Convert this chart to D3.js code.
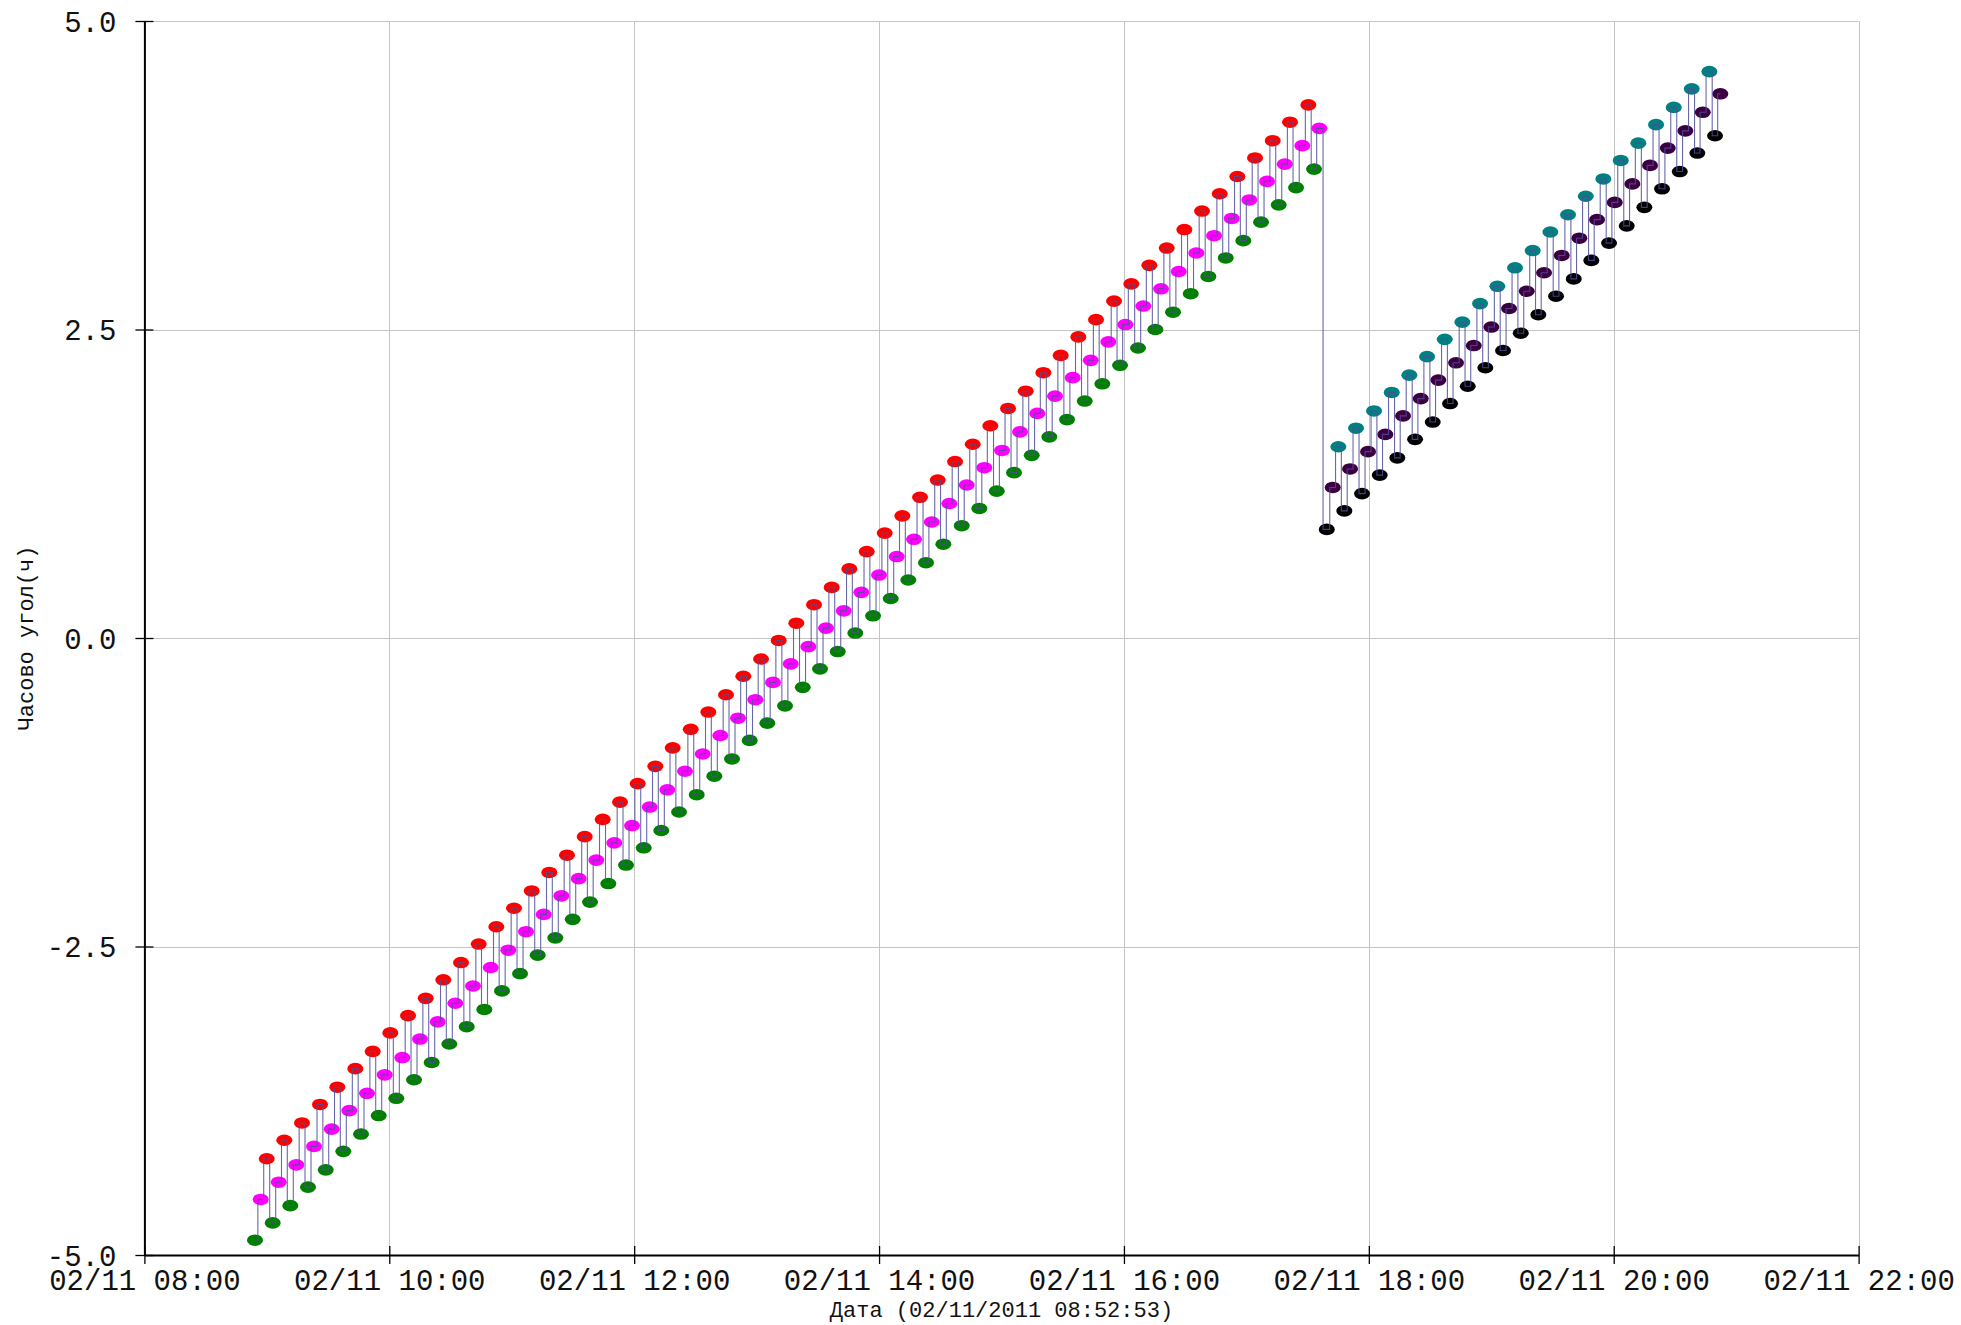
<!DOCTYPE html>
<html>
<head>
<meta charset="utf-8">
<script src="https://cdn.jsdelivr.net/npm/d3@7"></script>
<style>
  body { margin: 0; background: #fff; }
  svg { display: block; }
  text { font-family: "Liberation Mono", "DejaVu Sans Mono", monospace; fill: #111; }
</style>
</head>
<body>
<svg id="chart" width="1961" height="1325"></svg>
<script>
// ── Datos ────────────────────────────────────────────────────────
const DAY = "2011-11-02";

const greenTimes = ["08:54:12","09:02:52","09:11:30","09:20:10","09:28:51","09:37:28","09:46:09","09:54:49","10:03:27","10:12:07","10:20:47","10:29:25","10:37:56","10:46:34","10:55:14","11:04:04","11:12:44","11:21:21","11:29:53","11:38:22","11:47:20","11:56:00","12:04:41","12:13:18","12:21:59","12:30:39","12:39:16","12:47:57","12:56:37","13:05:15","13:13:55","13:22:36","13:31:04","13:39:45","13:48:22","13:57:03","14:05:43","14:14:20","14:23:01","14:31:30","14:40:31","14:49:08","14:57:40","15:06:08","15:14:49","15:23:26","15:32:07","15:40:47","15:49:25","15:58:05","16:06:54","16:15:23","16:24:03","16:32:44","16:41:21","16:49:53","16:58:30","17:07:11","17:15:51","17:24:20","17:33:09"];
const greenValues = [-4.88,-4.74,-4.60,-4.45,-4.31,-4.16,-4.02,-3.87,-3.73,-3.58,-3.44,-3.29,-3.15,-3.01,-2.86,-2.72,-2.57,-2.43,-2.28,-2.14,-1.99,-1.84,-1.70,-1.56,-1.41,-1.27,-1.12,-0.98,-0.83,-0.69,-0.55,-0.40,-0.25,-0.11,0.04,0.18,0.32,0.47,0.61,0.76,0.91,1.05,1.19,1.34,1.48,1.63,1.77,1.92,2.06,2.21,2.35,2.50,2.64,2.79,2.93,3.08,3.22,3.37,3.51,3.65,3.80];

const magentaTimes = ["08:57:00","09:05:49","09:14:26","09:23:07","09:31:47","09:40:25","09:49:05","09:57:45","10:06:23","10:15:03","10:23:44","10:32:21","10:41:02","10:49:42","10:58:20","11:07:00","11:15:40","11:24:18","11:32:50","11:41:27","11:50:16","11:58:57","12:07:37","12:16:15","12:24:55","12:33:35","12:42:13","12:50:53","12:59:22","13:08:02","13:16:43","13:25:20","13:34:01","13:42:41","13:51:19","13:59:59","14:08:39","14:17:08","14:25:49","14:34:26","14:42:58","14:51:35","15:00:16","15:09:05","15:17:33","15:26:14","15:34:54","15:43:44","15:52:21","16:00:41","16:09:30","16:18:11","16:26:51","16:35:28","16:44:09","16:52:49","17:01:27","17:10:07","17:18:48","17:27:25","17:35:45"];
const magentaValues = [-4.55,-4.41,-4.27,-4.12,-3.98,-3.83,-3.69,-3.54,-3.40,-3.25,-3.11,-2.96,-2.82,-2.67,-2.53,-2.38,-2.24,-2.09,-1.95,-1.80,-1.66,-1.52,-1.37,-1.23,-1.08,-0.94,-0.79,-0.65,-0.50,-0.36,-0.21,-0.07,0.08,0.22,0.37,0.51,0.66,0.80,0.94,1.09,1.24,1.38,1.52,1.67,1.82,1.96,2.11,2.25,2.40,2.54,2.69,2.83,2.97,3.12,3.26,3.40,3.55,3.70,3.84,3.99,4.13];

const redTimes = ["08:59:56","09:08:33","09:17:14","09:26:03","09:34:32","09:43:21","09:51:53","10:00:30","10:09:11","10:17:51","10:26:28","10:35:09","10:43:49","10:52:27","11:01:07","11:09:48","11:18:25","11:27:05","11:35:46","11:44:35","11:53:04","12:01:44","12:10:22","12:18:53","12:27:43","12:36:20","12:45:00","12:53:29","13:02:10","13:10:50","13:19:27","13:28:08","13:36:48","13:45:26","13:53:57","14:02:47","14:11:24","14:20:05","14:28:45","14:37:14","14:45:54","14:54:31","15:03:12","15:11:52","15:20:30","15:29:01","15:37:39","15:46:19","15:55:09","16:03:37","16:12:27","16:20:58","16:29:36","16:38:16","16:46:56","16:55:34","17:04:14","17:12:55","17:21:23","17:30:22"];
const redValues = [-4.22,-4.07,-3.93,-3.78,-3.64,-3.49,-3.35,-3.20,-3.06,-2.92,-2.77,-2.63,-2.48,-2.34,-2.19,-2.05,-1.90,-1.76,-1.61,-1.47,-1.33,-1.18,-1.04,-0.89,-0.74,-0.60,-0.46,-0.31,-0.17,-0.02,0.12,0.27,0.41,0.56,0.70,0.85,0.99,1.14,1.28,1.43,1.57,1.72,1.86,2.00,2.15,2.29,2.44,2.58,2.73,2.87,3.02,3.16,3.31,3.46,3.60,3.74,3.89,4.03,4.18,4.32];

const blackTimes = ["17:39:23","17:48:00","17:56:40","18:05:21","18:13:58","18:22:39","18:31:19","18:39:48","18:48:28","18:57:06","19:05:46","19:14:27","19:23:04","19:31:44","19:40:25","19:49:02","19:57:43","20:06:23","20:15:01","20:23:41","20:32:22","20:40:59","20:49:39"];
const blackValues = [0.88,1.03,1.17,1.32,1.46,1.61,1.75,1.90,2.04,2.19,2.33,2.47,2.62,2.77,2.91,3.06,3.20,3.34,3.49,3.64,3.78,3.93,4.07];

const purpleTimes = ["17:42:19","17:50:48","17:59:37","18:08:05","18:16:46","18:25:26","18:34:04","18:42:44","18:51:25","19:00:02","19:08:43","19:17:23","19:25:52","19:34:32","19:43:10","19:51:50","20:00:30","20:09:08","20:17:48","20:26:29","20:35:06","20:43:38","20:52:15"];
const purpleValues = [1.22,1.37,1.51,1.65,1.80,1.94,2.09,2.23,2.37,2.52,2.67,2.81,2.96,3.10,3.24,3.39,3.53,3.68,3.83,3.97,4.11,4.26,4.41];

const tealTimes = ["17:45:04","17:53:44","18:02:33","18:11:14","18:19:51","18:28:32","18:37:12","18:45:49","18:54:30","19:02:59","19:11:39","19:20:19","19:28:57","19:37:37","19:46:18","19:54:55","20:03:27","20:12:04","20:20:45","20:29:25","20:38:14","20:46:52"];
const tealValues = [1.55,1.70,1.84,1.99,2.13,2.28,2.42,2.56,2.71,2.85,3.00,3.14,3.29,3.43,3.58,3.72,3.87,4.01,4.16,4.30,4.45,4.59];

const xTickTimes  = ["08:00","10:00","12:00","14:00","16:00","18:00","20:00","22:00"];
const xTickLabels = ["02/11 08:00","02/11 10:00","02/11 12:00","02/11 14:00","02/11 16:00","02/11 18:00","02/11 20:00","02/11 22:00"];
const yTicks = [-5, -2.5, 0, 2.5, 5];

const xTitle = "Дата (02/11/2011 08:52:53)";
const yTitle = "Часово угол(ч)";

// ── Estilos ──────────────────────────────────────────────────────
const seriesColors = {
  green: "#008000", magenta: "#ff00ff", red: "#ff0000",
  black: "#000000", purple: "#3c0042", teal: "#008080"
};

// ── Escalas ──────────────────────────────────────────────────────
const parse = d3.timeParse("%Y-%m-%d %H:%M:%S");
const parseTick = d3.timeParse("%Y-%m-%d %H:%M");
const toDate = t => parse(DAY + " " + t);

const X0 = 144.4, X1 = 1858.6, Y0 = 1255, Y1 = 21;

const x = d3.scaleTime()
  .domain([parseTick(DAY + " 08:00"), parseTick(DAY + " 22:00")])
  .range([X0, X1]);
const y = d3.scaleLinear().domain([-5, 5]).range([Y0, Y1]);

const series = [
  { key: "green",   times: greenTimes,   values: greenValues },
  { key: "magenta", times: magentaTimes, values: magentaValues },
  { key: "red",     times: redTimes,     values: redValues },
  { key: "black",   times: blackTimes,   values: blackValues },
  { key: "purple",  times: purpleTimes,  values: purpleValues },
  { key: "teal",    times: tealTimes,    values: tealValues }
];

// todas las observaciones en orden de tiempo (la línea las recorre así)
const points = [];
series.forEach(s => s.times.forEach((t, i) =>
  points.push({ key: s.key, date: toDate(t), value: s.values[i] })));
points.sort((a, b) => a.date - b.date);

const svg = d3.select("#chart");

// ── Rejilla ──────────────────────────────────────────────────────
const tickDates = xTickTimes.map(t => parseTick(DAY + " " + t));

svg.append("g").selectAll("line")
  .data(tickDates.slice(1))
  .join("line")
  .attr("x1", d => Math.round(x(d)) + 0.5).attr("x2", d => Math.round(x(d)) + 0.5)
  .attr("y1", Y1).attr("y2", Y0)
  .attr("stroke", "#c4c4c4").attr("stroke-width", 1);

svg.append("g").selectAll("line")
  .data(yTicks.filter(v => v > -5))
  .join("line")
  .attr("x1", X0).attr("x2", X1)
  .attr("y1", d => Math.round(y(d)) + 0.5).attr("y2", d => Math.round(y(d)) + 0.5)
  .attr("stroke", "#c4c4c4").attr("stroke-width", 1);

// ── Marcadores ───────────────────────────────────────────────────
svg.append("g").selectAll("ellipse")
  .data(points)
  .join("ellipse")
  .attr("cx", d => x(d.date)).attr("cy", d => y(d.value))
  .attr("rx", 8).attr("ry", 5.8)
  .attr("fill", d => seriesColors[d.key]);

// ── Línea escalonada (encima de los marcadores) ──────────────────
const line = d3.line().curve(d3.curveStep)
  .x(d => x(d.date)).y(d => y(d.value));
svg.append("path")
  .datum(points)
  .attr("d", line)
  .attr("fill", "none")
  .attr("stroke", "#4e4e96")
  .attr("stroke-width", 1.1)
  .attr("stroke-opacity", 0.85);

// ── Ejes ─────────────────────────────────────────────────────────
const xAxis = svg.append("g")
  .attr("transform", `translate(0,${Y0})`)
  .call(d3.axisBottom(x).tickValues(tickDates).tickSizeOuter(0)
    .tickFormat((d, i) => xTickLabels[i]));
xAxis.select(".domain").attr("stroke", "#000").attr("stroke-width", 2);
xAxis.selectAll(".tick line").attr("y1", -9).attr("y2", 9).attr("stroke", "#000").attr("stroke-width", 1.3);
xAxis.selectAll(".tick text")
  .attr("y", 35).attr("dy", null)
  .style("font-size", "29px").attr("fill", "#111");

const yAxis = svg.append("g")
  .attr("transform", `translate(${X0},0)`)
  .call(d3.axisLeft(y).tickValues(yTicks).tickSizeOuter(0)
    .tickFormat(d => d.toFixed(1)));
yAxis.select(".domain").attr("stroke", "#000").attr("stroke-width", 2);
yAxis.selectAll(".tick line").attr("x1", -9).attr("x2", 9).attr("stroke", "#000").attr("stroke-width", 1.3);
yAxis.selectAll(".tick text")
  .attr("x", -28).attr("dy", null).attr("y", 10)
  .style("font-size", "29px").attr("fill", "#111");

// ── Títulos ──────────────────────────────────────────────────────
svg.append("text")
  .attr("x", (X0 + X1) / 2).attr("y", 1317)
  .attr("text-anchor", "middle")
  .style("font-size", "22px")
  .text(xTitle);

svg.append("text")
  .attr("transform", `translate(33,${(Y0 + Y1) / 2}) rotate(-90)`)
  .attr("text-anchor", "middle")
  .style("font-size", "22px")
  .text(yTitle);
</script>
</body>
</html>
